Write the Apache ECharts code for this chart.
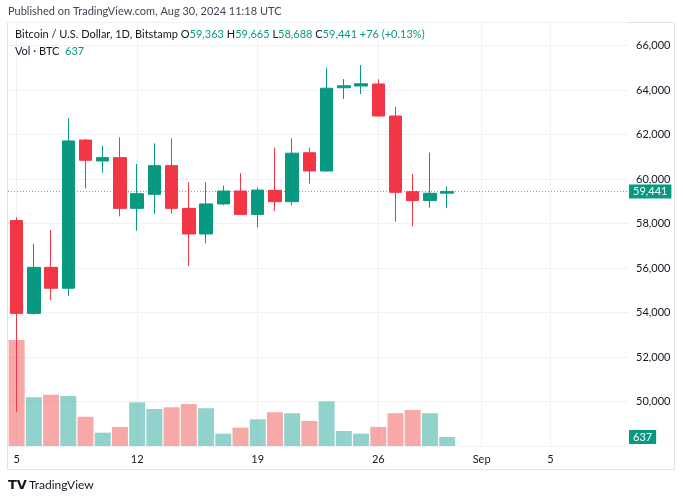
<!DOCTYPE html>
<html><head><meta charset="utf-8">
<script src="https://cdn.jsdelivr.net/npm/echarts@6/dist/echarts.min.js"></script>
<style>html,body{margin:0;padding:0;background:#fff}#c{width:683px;height:500px}</style>
</head><body><div id="c"></div>
<script>
// Daily candles, Bitstamp BTC/USD, Aug 5 - Aug 30 2024 (axis runs on to Sep 9)
const dates = ['2024-08-05','2024-08-06','2024-08-07','2024-08-08','2024-08-09','2024-08-10','2024-08-11',
  '2024-08-12','2024-08-13','2024-08-14','2024-08-15','2024-08-16','2024-08-17','2024-08-18',
  '2024-08-19','2024-08-20','2024-08-21','2024-08-22','2024-08-23','2024-08-24','2024-08-25',
  '2024-08-26','2024-08-27','2024-08-28','2024-08-29','2024-08-30','2024-08-31','2024-09-01',
  '2024-09-02','2024-09-03','2024-09-04','2024-09-05','2024-09-06','2024-09-07','2024-09-08','2024-09-09'];
const opens  = [58130,53960,56030,55090,61750,60810,60960,58680,59310,60600,58680,57530,58880,59460,58410,59490,58980,61180,60360,64100,64180,64270,62830,59430,59030,59363];
const highs  = [58280,57080,57710,62730,61800,61500,61870,60670,61600,61830,59850,59850,59700,60260,59610,61410,61830,61410,65000,64490,65120,64480,63240,60230,61180,59665];
const lows   = [49540,53900,54560,54740,59580,60280,58320,57680,58440,58440,56100,57110,58820,58400,57830,58560,58820,59790,60340,63600,63820,62800,58080,57860,58710,58688];
const closes = [53960,56030,55090,61710,60840,60960,58680,59340,60600,58680,57530,58880,59460,58410,59500,58980,61160,60360,64080,64190,64280,62830,59400,59030,59360,59441];
const volumes= [7500,3450,3630,3540,2070,940,1350,3090,2620,2740,2970,2670,870,1300,1890,2390,2320,1770,3160,1060,870,1350,2320,2550,2320,637];
const tickDates  = ['2024-08-05','2024-08-12','2024-08-19','2024-08-26','2024-09-01','2024-09-05'];
const tickLabels = ['5','12','19','26','Sep','5'];
const priceTicks = [50000,52000,54000,56000,58000,60000,62000,64000,66000];
const change = 76, changePct = '+0.13%';

const UP = '#089981', DOWN = '#F23645';
const VUP = 'rgba(38,166,154,0.5)', VDOWN = 'rgba(239,83,80,0.5)';
const FONT = 'Lato';
const fmt = v => Number(v).toLocaleString('en-US');

const candleData = dates.map((d, i) => i < opens.length ? [opens[i], closes[i], lows[i], highs[i]] : '-');
const volData = dates.map((d, i) => i < volumes.length ? {
  value: volumes[i], itemStyle: { color: closes[i] >= opens[i] ? VUP : VDOWN }
} : '-');

const n = opens.length - 1;
const lastClose = closes[n];
const tickIdx = i => tickDates.indexOf(dates[i]) >= 0;

const chart = echarts.init(document.getElementById('c'), null, { renderer: 'canvas' });
chart.setOption({
  animation: false,
  backgroundColor: '#ffffff',
  textStyle: { fontFamily: FONT },
  grid: [
    { left: 8, right: 55, top: 22, bottom: 54 },
    { left: 8, right: 55, bottom: 54, height: 212 }
  ],
  xAxis: [
    {
      type: 'category', data: dates, gridIndex: 0, boundaryGap: true,
      axisLine: { show: false }, axisTick: { show: false },
      axisLabel: {
        interval: (i) => tickIdx(i),
        formatter: (v) => tickLabels[tickDates.indexOf(v)] || '',
        color: '#131722', fontSize: 11, fontFamily: FONT, margin: 8
      },
      splitLine: { show: true, alignWithLabel: true, interval: (i) => tickIdx(i),
        lineStyle: { color: '#eef1f7', width: 1 } }
    },
    {
      type: 'category', data: dates, gridIndex: 1, boundaryGap: true,
      axisLine: { show: false }, axisTick: { show: false }, axisLabel: { show: false }, splitLine: { show: false }
    }
  ],
  yAxis: [
    {
      type: 'value', gridIndex: 0, position: 'right', min: 48000, max: 67056, interval: 2000,
      axisLine: { show: false }, axisTick: { show: false },
      axisLabel: {
        color: '#131722', fontSize: 11, fontFamily: FONT, margin: 8,
        showMinLabel: false, showMaxLabel: false,
        formatter: (v) => priceTicks.indexOf(v) >= 0 ? fmt(v) : ''
      },
      splitLine: { show: true, lineStyle: { color: '#eef1f7', width: 1 } }
    },
    {
      type: 'value', gridIndex: 1, position: 'right', min: 0, max: 15000,
      axisLine: { show: false }, axisTick: { show: false }, axisLabel: { show: false }, splitLine: { show: false }
    }
  ],
  series: [
    {
      type: 'bar', name: 'Volume', xAxisIndex: 1, yAxisIndex: 1, data: volData, barWidth: 16, z: 1,
      markLine: {
        silent: true, symbol: 'none',
        lineStyle: { color: 'rgba(0,0,0,0)', width: 0 },
        label: {
          show: true, position: 'end', distance: 1, formatter: () => fmt(volumes[n]),
          color: '#ffffff', backgroundColor: UP, padding: [2, 4, 1, 4], fontSize: 11, fontFamily: FONT
        },
        data: [{ yAxis: volumes[n] }]
      }
    },
    {
      type: 'candlestick', name: 'BTCUSD', xAxisIndex: 0, yAxisIndex: 0, data: candleData, barWidth: 13, z: 3,
      itemStyle: { color: UP, color0: DOWN, borderColor: UP, borderColor0: DOWN, borderWidth: 1 },
      markLine: {
        silent: true, symbol: 'none',
        lineStyle: { color: 'rgba(8,153,129,0.7)', type: [1, 2], width: 1 },
        label: {
          show: true, position: 'end', distance: 1, formatter: () => fmt(lastClose),
          color: '#ffffff', backgroundColor: UP, padding: [2, 4, 1, 4], fontSize: 11, fontFamily: FONT
        },
        data: [{ yAxis: lastClose }]
      }
    }
  ],
  graphic: [
    { type: 'rect', z: -1, silent: true, shape: { x: 7.5, y: 22.5, width: 667, height: 447 },
      style: { fill: 'none', stroke: '#e0e3eb', lineWidth: 1 } },
    { type: 'text', z: 100, left: 8, top: 6, style: { text: 'Published on TradingView.com, Aug 30, 2024 11:18 UTC',
      fill: '#434651', font: '11px ' + FONT } },
    { type: 'text', z: 100, left: 15, top: 29, style: {
      text: '{n|Bitcoin / U.S. Dollar, 1D, Bitstamp O}{g|' + fmt(opens[n]) + '}{n| H}{g|' + fmt(highs[n]) +
            '}{n| L}{g|' + fmt(lows[n]) + '}{n| C}{g|' + fmt(lastClose) + ' +' + change + ' (' + changePct + ')}',
      backgroundColor: 'rgba(255,255,255,0.85)',
      rich: { n: { fill: '#131722', font: '11px ' + FONT }, g: { fill: UP, font: '11px ' + FONT } } } },
    { type: 'text', z: 100, left: 15, top: 46, style: {
      text: '{n|Vol · BTC  }{g|' + fmt(volumes[n]) + '}',
      rich: { n: { fill: '#131722', font: '11px ' + FONT }, g: { fill: UP, font: '11px ' + FONT } } } },
    { type: 'text', z: 100, left: 8, top: 479, style: { text: 'TV', fill: '#131722', font: '900 13px "DejaVu Sans"' } },
    { type: 'text', z: 100, left: 29, top: 479, style: { text: 'TradingView', fill: '#131722', font: '12px ' + FONT } }
  ]
});
</script></body></html>
